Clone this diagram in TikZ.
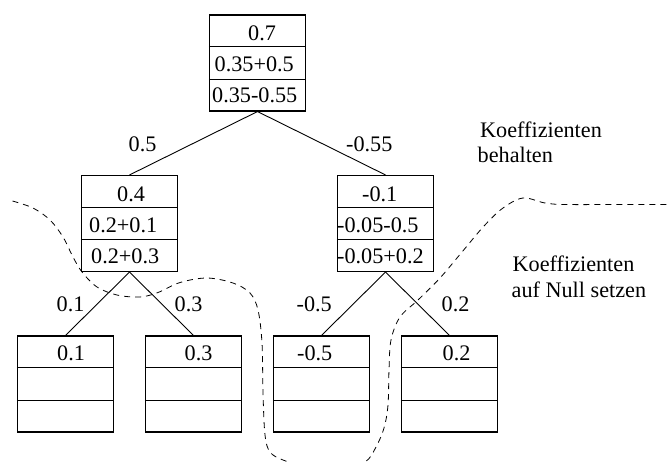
\documentclass[tikz,border=0pt]{standalone}
\usepackage{fontspec}
\setmainfont{Liberation Serif}
\usetikzlibrary{calc}
\begin{document}
\begin{tikzpicture}[x=1pt,y=-1pt,
  font=\fontsize{22.2}{26}\selectfont,
  box/.style={draw, line width=1.1pt, minimum width=96pt, minimum height=96pt, inner sep=0pt},
  divider/.style={line width=1.1pt},
  edge/.style={line width=0.9pt},
  lbl/.style={anchor=base west, inner sep=0pt},
  region/.style={line width=0.8pt, dash pattern=on 6pt off 5pt}]
\useasboundingbox (0,0) rectangle (668,461);

% three-row coefficient boxes of the tree
\node[box] (top) at (257.5,63) {};
\node[box] (ml) at (129.5,223.5) {};
\node[box] (mr) at (385.5,223.5) {};
\node[box] (b1) at (65.5,384) {};
\node[box] (b2) at (193.5,384) {};
\node[box] (b3) at (321.5,384) {};
\node[box] (b4) at (449.5,384) {};
\foreach \b in {top,ml,mr,b1,b2,b3,b4}{
  \draw[divider] ($(\b.north west)!1/3!(\b.south west)$) -- ($(\b.north east)!1/3!(\b.south east)$);
  \draw[divider] ($(\b.north west)!2/3!(\b.south west)$) -- ($(\b.north east)!2/3!(\b.south east)$);
}

% tree edges
\draw[edge] (top.south) -- (ml.north);
\draw[edge] (top.south) -- (mr.north);
\draw[edge] (ml.south) -- (b1.north);
\draw[edge] (ml.south) -- (b2.north);
\draw[edge] (mr.south) -- (b3.north);
\draw[edge] (mr.south) -- (b4.north);

% box contents
\node[lbl] (top1) at (248,40) {0.7};
\node[lbl] (top2) at (214.5,71.7) {0.35+0.5};
\node[lbl] (top3) at (212,102.7) {0.35-0.55};
\node[lbl] (ml1) at (117,201) {0.4};
\node[lbl] (ml2) at (89,232.7) {0.2+0.1};
\node[lbl] (ml3) at (91,263.5) {0.2+0.3};
\node[lbl] (mr1) at (362,201) {-0.1};
\node[lbl] (mr2) at (337,232.2) {-0.05-0.5};
\node[lbl] (mr3) at (337,263) {-0.05+0.2};
\node[lbl] (b1t) at (57,360) {0.1};
\node[lbl] (b2t) at (184.5,360) {0.3};
\node[lbl] (b3t) at (297,360) {-0.5};
\node[lbl] (b4t) at (442.5,360) {0.2};

% edge labels
\node[lbl] (e1) at (128.5,151.5) {0.5};
\node[lbl] (e2) at (346,151.5) {-0.55};
\node[lbl] (e3) at (56.5,311.7) {0.1};
\node[lbl] (e4) at (174.5,311.7) {0.3};
\node[lbl] (e5) at (296.5,311.7) {-0.5};
\node[lbl] (e6) at (441.5,311.7) {0.2};

% region captions
\node[lbl] (keep1) at (480,137.7) {Koeffizienten};
\node[lbl] (keep2) at (477.5,162.7) {behalten};
\node[lbl] (zero1) at (512.5,271) {Koeffizienten};
\node[lbl] (zero2) at (511.5,297) {auf Null setzen};

% dashed border of the zeroed region
\begin{scope}
\clip (0,0) rectangle (668,461);
\draw[region] plot[smooth, tension=0.55] coordinates {
  (12.5,201) (33,208) (50,220) (63,237) (73,257) (82,272) (97,287)
  (117,295) (140,297) (158,292.5) (180,282.5) (207,278) (233,283) (250,293)
  (258,310) (262,343) (263,393) (265,435) (270,452) (283,460) (305,466)
  (340,468) (365,462) (376,447) (384,428) (388,405) (389,370) (391,340)
  (400,317) (418,300) (440,278) (462,252) (484,226) (503,208) (523,198)
  (545,203) (565,204.5) (620,204.5) (680,204.5)};
\end{scope}
\end{tikzpicture}
\end{document}
